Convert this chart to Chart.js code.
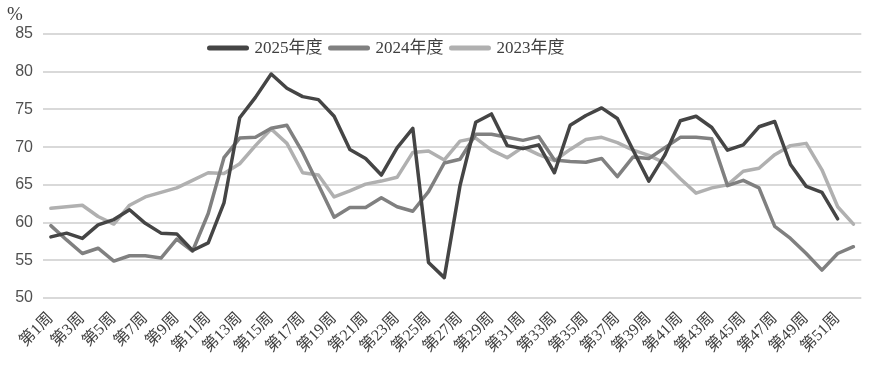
<!DOCTYPE html>
<html>
<head>
<meta charset="utf-8">
<script src="https://cdn.jsdelivr.net/npm/chart.js@4.4.1/dist/chart.umd.min.js"></script>
<style>
  html, body { margin: 0; padding: 0; background: #fff; }
  #wrap { width: 870px; height: 367px; }
</style>
</head>
<body>
<div id="wrap"><canvas id="weekChart" width="870" height="367"></canvas></div>
<script>
const weeks = [];
for (let i = 1; i <= 52; i++) weeks.push("第" + i + "周");

const seriesNames = ["2025年度", "2024年度", "2023年度"];
const y2025 = [58.1, 58.6, 57.9, 59.7, 60.4, 61.7, 59.9, 58.6, 58.5, 56.3, 57.3, 62.6, 73.9, 76.6, 79.7, 77.8, 76.7, 76.3, 74.1, 69.7, 68.5, 66.3, 69.9, 72.5, 54.7, 52.7, 64.9, 73.3, 74.4, 70.2, 69.8, 70.3, 66.6, 72.9, 74.2, 75.2, 73.8, 69.6, 65.5, 68.9, 73.5, 74.1, 72.6, 69.6, 70.3, 72.7, 73.4, 67.7, 64.8, 64.0, 60.5];
const y2024 = [59.6, 57.7, 55.9, 56.6, 54.9, 55.6, 55.6, 55.3, 57.8, 56.2, 61.2, 68.6, 71.2, 71.3, 72.5, 72.9, 69.3, 65.0, 60.7, 62.0, 62.0, 63.3, 62.1, 61.5, 64.1, 67.9, 68.4, 71.7, 71.7, 71.3, 70.9, 71.4, 68.3, 68.1, 68.0, 68.5, 66.1, 68.7, 68.5, 69.9, 71.3, 71.3, 71.1, 64.9, 65.6, 64.6, 59.5, 57.9, 55.9, 53.7, 55.9, 56.8];
const y2023 = [61.9, 62.1, 62.3, 60.8, 59.8, 62.3, 63.4, 64.0, 64.6, 65.6, 66.6, 66.5, 67.8, 70.2, 72.4, 70.5, 66.6, 66.3, 63.4, 64.2, 65.1, 65.5, 66.0, 69.3, 69.5, 68.3, 70.8, 71.2, 69.6, 68.6, 70.0, 69.0, 68.2, 69.7, 71.0, 71.3, 70.6, 69.6, 68.9, 67.9, 65.8, 63.9, 64.6, 65.0, 66.8, 67.2, 69.0, 70.2, 70.5, 67.0, 62.1, 59.8];
const yTicks = [50, 55, 60, 65, 70, 75, 80, 85];

const lineColors = ["#454545", "#808080", "#b0b0b0"];
const serifFont = "'Liberation Serif', 'Noto Sans CJK SC', serif";

// "%" unit label and the in-plot legend
const overlayPlugin = {
  id: "overlay",
  afterDraw(chart) {
    const ctx = chart.ctx;
    ctx.save();
    ctx.fillStyle = "#404040";
    ctx.font = "19px " + serifFont;
    ctx.textBaseline = "middle";
    ctx.textAlign = "left";
    ctx.fillText("%", 7, 15);

    const lineLen = 41, gap = 6, itemGap = 6;
    ctx.font = "17px " + serifFont;
    const items = chart.data.datasets.map(ds => ({
      label: ds.label, color: ds.borderColor,
      w: lineLen + gap + ctx.measureText(ds.label).width
    }));
    const total = items.reduce((s, it) => s + it.w, 0) + itemGap * (items.length - 1);
    let x = 386 - total / 2;
    const y = 48;
    items.forEach(it => {
      ctx.strokeStyle = it.color;
      ctx.lineWidth = 5;
      ctx.lineCap = "round";
      ctx.beginPath();
      ctx.moveTo(x + 2, y);
      ctx.lineTo(x + lineLen - 2, y);
      ctx.stroke();
      ctx.fillStyle = "#404040";
      ctx.fillText(it.label, x + lineLen + gap, y + 1);
      x += it.w + itemGap;
    });
    ctx.restore();
  }
};

new Chart(document.getElementById("weekChart"), {
  type: "line",
  data: {
    labels: weeks,
    datasets: [
      { label: seriesNames[0], data: y2025, borderColor: lineColors[0] },
      { label: seriesNames[1], data: y2024, borderColor: lineColors[1] },
      { label: seriesNames[2], data: y2023, borderColor: lineColors[2] }
    ].map(ds => Object.assign(ds, {
      borderWidth: 3.5,
      pointRadius: 0,
      tension: 0,
      fill: false,
      borderCapStyle: "round",
      borderJoinStyle: "round"
    }))
  },
  options: {
    responsive: false,
    animation: false,
    layout: { padding: { top: 34, right: 1, left: 0, bottom: 0 } },
    plugins: {
      legend: { display: false },
      tooltip: { enabled: false }
    },
    scales: {
      x: {
        offset: true,
        grid: { display: false },
        border: { display: false },
        ticks: {
          autoSkip: false,
          maxRotation: 45,
          minRotation: 45,
          padding: 3,
          color: "#404040",
          font: { family: serifFont, size: 16 },
          callback: function (v, i) { return i % 2 === 0 ? this.getLabelForValue(v) : ""; }
        },
        afterFit: s => { s.height = 69; }
      },
      y: {
        min: 50,
        max: 85,
        afterBuildTicks: s => { s.ticks = yTicks.map(v => ({ value: v })); },
        grid: { color: "#d9d9d9", lineWidth: 2, drawTicks: false },
        border: { display: false },
        ticks: {
          padding: 10,
          color: "#505050",
          font: { family: "'Liberation Sans', sans-serif", size: 16 }
        },
        afterFit: s => { s.width = 43; }
      }
    }
  },
  plugins: [overlayPlugin]
});
</script>
</body>
</html>
